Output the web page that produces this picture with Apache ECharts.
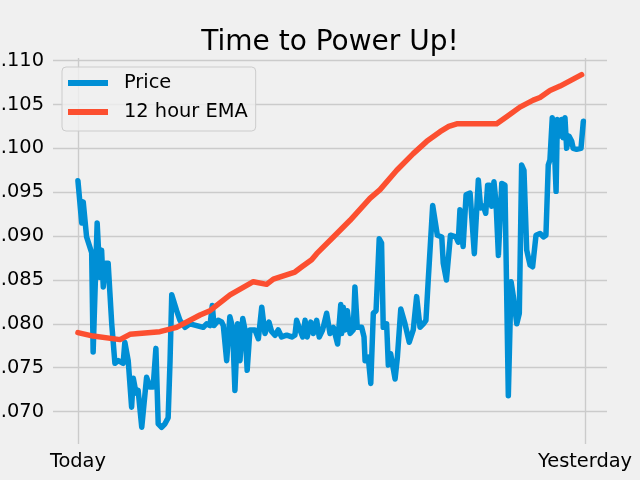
<!DOCTYPE html>
<html>
<head>
<meta charset="utf-8">
<script src="https://cdn.jsdelivr.net/npm/echarts@6/dist/echarts.min.js"></script>
<style>
html,body{margin:0;padding:0;background:#f0f0f0;}
#chart{width:640px;height:480px;}
</style>
</head>
<body>
<div id="chart"></div>
<script>
// ---- data (hours since start of window) ----
const xTickValues = [0, 24];
const xTickLabels = ['Today', 'Yesterday'];
const yTickValues = [0.070, 0.075, 0.080, 0.085, 0.090, 0.095, 0.100, 0.105, 0.110];

const priceHours = [0,0.09,0.18,0.25,0.33,0.41,0.65,0.72,0.91,1.04,1.12,1.20,1.31,1.43,1.60,1.75,1.91,2.14,2.22,2.38,2.54,2.62,2.75,2.85,3.02,3.09,3.25,3.41,3.56,3.69,3.80,3.96,4.12,4.27,4.36,4.44,4.67,4.83,5.07,5.30,5.62,5.93,6.09,6.25,6.36,6.44,6.64,6.80,6.88,7.04,7.19,7.32,7.43,7.56,7.67,7.80,7.91,8.01,8.14,8.38,8.54,8.70,8.85,9.04,9.17,9.33,9.48,9.64,9.88,10.12,10.27,10.35,10.51,10.64,10.75,10.85,11.02,11.14,11.30,11.42,11.58,11.77,11.93,12.09,12.29,12.44,12.48,12.56,12.64,12.75,12.88,13.03,13.11,13.22,13.43,13.54,13.59,13.74,13.86,13.98,14.11,14.26,14.37,14.45,14.61,14.69,14.80,15.01,15.12,15.28,15.48,15.68,15.87,16.03,16.19,16.35,16.47,16.58,16.79,17.01,17.22,17.29,17.44,17.63,17.89,18.00,18.08,18.16,18.23,18.37,18.56,18.76,18.95,19.06,19.19,19.30,19.39,19.50,19.58,19.69,19.79,19.90,20.06,20.21,20.37,20.50,20.61,20.77,20.89,21.00,21.11,21.24,21.40,21.52,21.68,21.87,22.03,22.15,22.26,22.34,22.45,22.53,22.63,22.69,22.78,22.90,22.97,23.05,23.13,23.24,23.37,23.44,23.60,23.81,23.92];
const priceValues = [0.0963,0.0961,0.0915,0.0939,0.0938,0.0899,0.0881,0.0768,0.0915,0.0853,0.0884,0.0842,0.0869,0.0869,0.0800,0.0755,0.0758,0.0755,0.0779,0.0758,0.0705,0.0738,0.0721,0.0724,0.0682,0.0682,0.0739,0.0728,0.0728,0.0772,0.0686,0.0682,0.0686,0.0693,0.0758,0.0833,0.0815,0.0804,0.0796,0.0800,0.0798,0.0796,0.0800,0.0798,0.0821,0.0798,0.0804,0.0802,0.0798,0.0758,0.0808,0.0796,0.0724,0.0800,0.0758,0.0806,0.0793,0.0747,0.0793,0.0793,0.0783,0.0819,0.0789,0.0802,0.0791,0.0787,0.0793,0.0785,0.0787,0.0785,0.0787,0.0804,0.0793,0.0785,0.0804,0.0785,0.0802,0.0789,0.0804,0.0785,0.0793,0.0812,0.0789,0.0796,0.0777,0.0822,0.0789,0.0819,0.0793,0.0815,0.0789,0.0793,0.0842,0.0796,0.0796,0.0785,0.0758,0.0762,0.0732,0.0812,0.0815,0.0897,0.0892,0.0796,0.0800,0.0753,0.0766,0.0737,0.0762,0.0817,0.0800,0.0779,0.0793,0.0831,0.0796,0.0800,0.0804,0.0850,0.0935,0.0901,0.0899,0.0869,0.0850,0.0901,0.0899,0.0893,0.0930,0.0930,0.0888,0.0947,0.0949,0.0880,0.0964,0.0932,0.0934,0.0926,0.0958,0.0958,0.0934,0.0962,0.0937,0.0878,0.0960,0.0958,0.0718,0.0848,0.0831,0.0800,0.0812,0.0981,0.0975,0.0884,0.0867,0.0865,0.0901,0.0903,0.0899,0.0901,0.0981,0.0987,0.1035,0.1014,0.0951,0.1033,0.1014,0.1033,0.1012,0.1035,0.1000,0.1014,0.1008,0.1000,0.0999,0.1000,0.1031];

const emaHours = [0,0.72,1.99,2.46,3.88,4.67,5.15,5.78,6.25,7.20,8.30,8.93,9.25,10.27,10.60,11.06,11.30,12.09,12.88,13.82,14.30,15.09,15.87,16.51,17.14,17.55,17.93,19.82,20.29,20.92,21.55,21.87,22.34,22.82,23.84];
const emaValues = [0.0790,0.0786,0.0782,0.0788,0.0791,0.0796,0.0802,0.0810,0.0815,0.0833,0.0848,0.0845,0.0851,0.0859,0.0865,0.0873,0.0880,0.0899,0.0918,0.0943,0.0953,0.0975,0.0994,0.1008,0.1019,0.1025,0.1028,0.1028,0.1036,0.1047,0.1055,0.1058,0.1066,0.1071,0.1084];

const priceData = priceHours.map((h, i) => [h, priceValues[i]]);
const emaData = emaHours.map((h, i) => [h, emaValues[i]]);

const FONT = 'DejaVu Sans';
const chart = echarts.init(document.getElementById('chart'), null, {renderer: 'canvas'});
chart.setOption({
  backgroundColor: '#f0f0f0',
  animation: false,
  title: {
    text: 'Time to Power Up!',
    left: 325,
    textAlign: 'center',
    top: 24,
    textStyle: {fontFamily: FONT, fontSize: 28, fontWeight: 'normal', color: '#000'}
  },
  legend: {
    left: 62,
    top: 67,
    orient: 'vertical',
    padding: [5, 8, 8, 6],
    itemGap: 7,
    itemWidth: 40,
    itemHeight: 6,
    icon: 'rect',
    backgroundColor: 'rgba(240,240,240,0.8)',
    borderColor: '#cccccc',
    borderWidth: 1,
    borderRadius: 4,
    textStyle: {fontFamily: FONT, fontSize: 19.4, color: '#000', lineHeight: 22, padding: [0, 0, 0, 11]},
    data: ['Price', '12 hour EMA']
  },
  grid: {left: 53, right: 33, top: 58, bottom: 36, containLabel: false, outerBoundsMode: 'none'},
  xAxis: {
    type: 'value',
    min: -1.18,
    max: 25.04,
    axisLine: {show: false},
    axisTick: {show: false, customValues: xTickValues},
    axisLabel: {
      customValues: xTickValues,
      formatter: v => xTickLabels[xTickValues.indexOf(v)] || '',
      fontFamily: FONT, fontSize: 19.4, color: '#000', margin: 8
    },
    splitLine: {show: true, lineStyle: {color: '#cbcbcb', width: 1.4}}
  },
  yAxis: {
    type: 'value',
    min: 0.0663,
    max: 0.1103,
    axisLine: {show: false},
    axisTick: {show: false, customValues: yTickValues},
    axisLabel: {
      customValues: yTickValues,
      formatter: v => v.toFixed(3),
      fontFamily: FONT, fontSize: 19.4, color: '#000', margin: 9
    },
    splitLine: {show: true, lineStyle: {color: '#cbcbcb', width: 1.4}}
  },
  series: [
    {
      name: 'Price', type: 'line', data: priceData, showSymbol: false, symbol: 'none',
      color: '#008fd5',
      lineStyle: {width: 5.5, color: '#008fd5', cap: 'round', join: 'round'}
    },
    {
      name: '12 hour EMA', type: 'line', data: emaData, showSymbol: false, symbol: 'none',
      color: '#fc4f30',
      lineStyle: {width: 5.5, color: '#fc4f30', cap: 'round', join: 'round'}
    }
  ]
});
</script>
</body>
</html>
